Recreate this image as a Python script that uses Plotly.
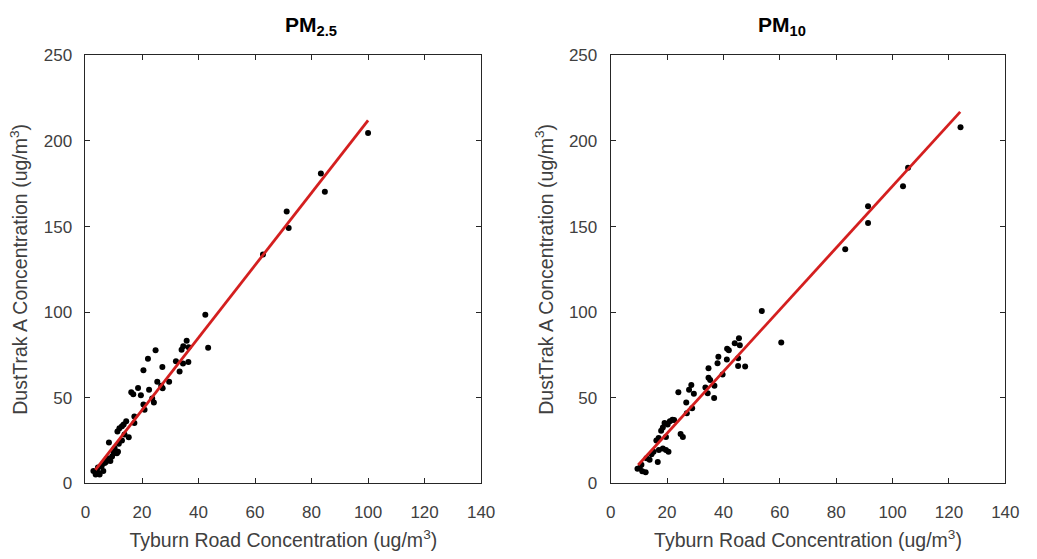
import plotly.graph_objects as go

# ---- PM2.5 data (Tyburn Road vs DustTrak A) ----
pm25_x = [42.4, 43.4, 35.8, 34.6, 34.0, 36.5, 24.8, 22.1, 20.5, 27.2, 32.0, 34.5, 36.4, 33.3,
          29.6, 25.4, 27.3, 26.8, 18.6, 16.2, 16.9, 19.6, 22.5, 24.2, 23.6, 20.5, 20.9, 17.3,
          17.3, 14.4, 13.5, 12.9, 12.0, 11.3, 15.3, 12.9, 11.8, 8.3, 10.3, 11.5, 10.0, 11.1,
          9.4, 7.7, 6.8, 5.7, 4.4, 2.8, 4.5, 6.3, 3.6, 5.0, 8.8, 7.2, 9.8, 13.8,
          100.0, 83.3, 84.7, 71.2, 71.9, 62.8]
pm25_y = [98.4, 79.2, 83.3, 80.0, 78.0, 79.5, 77.7, 72.8, 66.0, 67.9, 71.3, 70.0, 70.9, 65.3,
          59.3, 59.3, 55.5, 57.0, 55.7, 53.2, 52.0, 51.4, 54.6, 47.2, 49.5, 46.1, 43.0, 39.1,
          35.3, 36.3, 34.3, 33.3, 32.2, 30.3, 26.9, 25.0, 23.1, 23.9, 20.5, 18.4, 17.5, 17.5,
          15.6, 14.7, 11.8, 10.0, 9.2, 7.2, 6.2, 7.2, 5.2, 5.2, 13.0, 12.5, 19.0, 28.5,
          204.7, 181.0, 170.4, 158.8, 149.2, 133.6]
pm25_fit_x = [3.5, 100.0]
pm25_fit_y = [7.9, 212.0]

# ---- PM10 data ----
pm10_x = [124.1, 105.5, 103.7, 91.3, 91.3, 83.2, 53.6, 60.5, 45.5, 44.0, 45.8, 41.3, 41.9,
          38.2, 37.9, 41.2, 45.2, 45.2, 47.7, 34.7, 34.7, 35.3, 36.8, 33.6, 39.7, 34.4, 36.7,
          28.6, 27.8, 29.5, 24.0, 26.8, 28.9, 27.0, 24.8, 25.6, 21.9, 21.0, 20.2, 19.1, 18.5,
          17.9, 19.6, 17.0, 16.2, 17.1, 18.5, 19.6, 20.5, 15.2, 12.7, 13.8, 16.7, 10.9, 9.5,
          11.2, 12.4, 10.3, 14.5, 22.5]
pm10_y = [208.0, 184.4, 173.6, 161.8, 152.0, 136.7, 100.6, 82.2, 84.8, 81.8, 80.7, 78.6, 77.7,
          73.9, 70.1, 72.3, 73.0, 68.6, 68.3, 67.2, 61.7, 60.3, 57.0, 56.0, 63.6, 52.6, 49.8,
          57.5, 54.7, 52.3, 53.2, 47.2, 43.8, 40.9, 28.8, 27.0, 37.2, 36.3, 34.4, 35.3, 32.6,
          30.7, 27.0, 26.5, 25.0, 19.4, 20.3, 19.4, 18.4, 18.4, 14.7, 13.7, 12.4, 10.9, 8.5,
          7.1, 6.5, 8.9, 17.0, 37.0]
pm10_fit_x = [9.75, 124.0]
pm10_fit_y = [10.7, 217.0]

x_ticks = [0, 20, 40, 60, 80, 100, 120, 140]
y_ticks = [0, 50, 100, 150, 200, 250]

FONT = "Liberation Sans, Arial, sans-serif"
TXT = "#404040"
RED = "#d41f1f"

fig = go.Figure()
for xs, ys, fx, fy, ax in [(pm25_x, pm25_y, pm25_fit_x, pm25_fit_y, ""),
                           (pm10_x, pm10_y, pm10_fit_x, pm10_fit_y, "2")]:
    fig.add_trace(go.Scatter(x=xs, y=ys, mode="markers",
                             marker=dict(color="black", size=6),
                             xaxis="x" + ax, yaxis="y" + ax, showlegend=False))
    fig.add_trace(go.Scatter(x=fx, y=fy, mode="lines",
                             line=dict(color=RED, width=2.8),
                             xaxis="x" + ax, yaxis="y" + ax, showlegend=False))

W, H = 1037, 559
def xdom(a, b):
    return [a / W, b / W]
ydom = [(H - 491) / H, (H - 48) / H]

common_ax = dict(showline=True, linecolor="#262626", linewidth=1, mirror="allticks",
                 ticks="inside", ticklen=5, tickcolor="#262626", showgrid=False,
                 zeroline=False, tickfont=dict(family=FONT, size=17, color=TXT))

xtitle = dict(text="Tyburn Road Concentration (ug/m<sup>3</sup>)",
              font=dict(family=FONT, size=19.5, color=TXT), standoff=12)
ytitle = dict(text="DustTrak A Concentration (ug/m<sup>3</sup>)",
              font=dict(family=FONT, size=19.5, color=TXT), standoff=10)

fig.update_layout(
    width=W, height=H, autosize=False,
    margin=dict(l=0, r=0, t=0, b=0),
    paper_bgcolor="white", plot_bgcolor="white",
    xaxis=dict(domain=xdom(82, 485), range=[0, 140], tickvals=x_ticks, title=xtitle,
               anchor="y", ticklabelstandoff=13, **common_ax),
    yaxis=dict(domain=ydom, range=[0, 250], tickvals=y_ticks, title=ytitle,
               anchor="x", ticklabelstandoff=9, **common_ax),
    xaxis2=dict(domain=xdom(617, 1019), range=[0, 140], tickvals=x_ticks, title=xtitle,
                anchor="y2", ticklabelstandoff=13, **common_ax),
    yaxis2=dict(domain=ydom, range=[0, 250], tickvals=y_ticks, title=ytitle,
                anchor="x2", ticklabelstandoff=9, **common_ax),
    annotations=[
        dict(text="<b>PM<sub>2.5</sub></b>", x=(82 + 485) / 2 / W, y=(H - 18) / H,
             xref="paper", yref="paper", showarrow=False, yanchor="middle",
             font=dict(family=FONT, size=21, color="black")),
        dict(text="<b>PM<sub>10</sub></b>", x=(617 + 1019) / 2 / W, y=(H - 18) / H,
             xref="paper", yref="paper", showarrow=False, yanchor="middle",
             font=dict(family=FONT, size=21, color="black")),
    ],
)

fig.write_html("out.html")
